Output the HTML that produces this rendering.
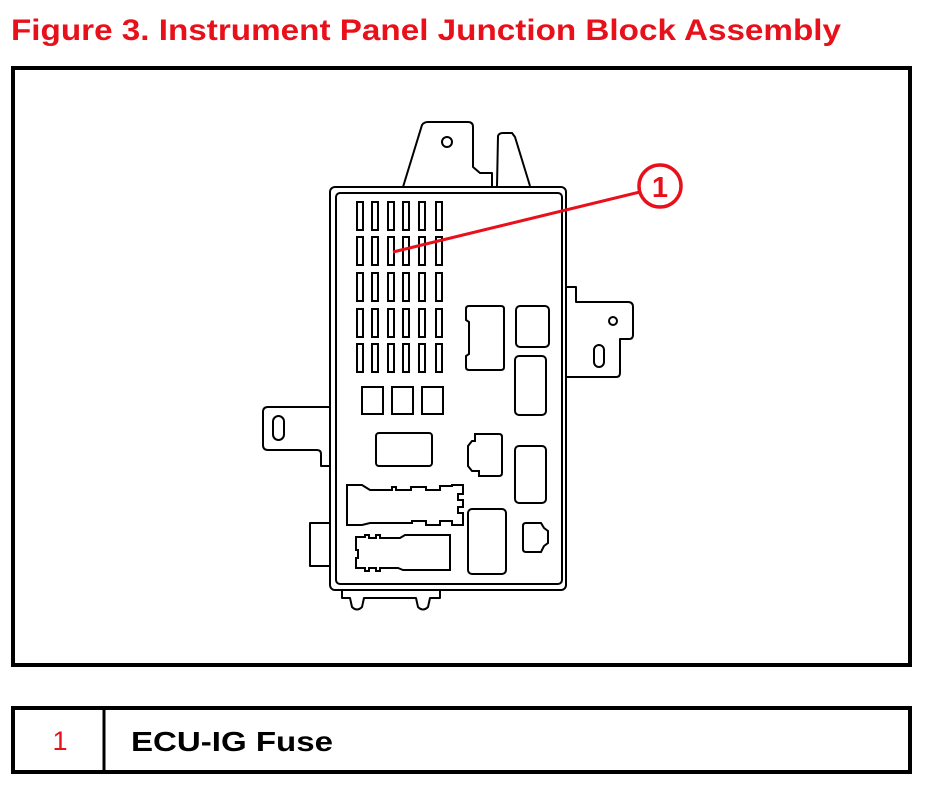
<!DOCTYPE html>
<html><head><meta charset="utf-8"><style>
html,body{margin:0;padding:0;background:#fff;}
svg{display:block;}
</style></head><body>
<svg width="936" height="801" viewBox="0 0 936 801" xmlns="http://www.w3.org/2000/svg" font-family="Liberation Sans, Arial, sans-serif">
<defs>
<g id="row">
<rect x="357" y="0" width="6" height="28"/><rect x="372" y="0" width="6" height="28"/><rect x="388" y="0" width="6" height="28"/><rect x="403" y="0" width="6" height="28"/><rect x="419" y="0" width="6" height="28"/><rect x="436" y="0" width="6" height="28"/>
</g>
</defs>
<text x="11" y="40" font-size="30" font-weight="bold" fill="#e8101a" textLength="830" lengthAdjust="spacingAndGlyphs">Figure 3. Instrument Panel Junction Block Assembly</text>
<rect x="13" y="68" width="897" height="597" fill="none" stroke="#000" stroke-width="4"/>
<g fill="none" stroke="#000" stroke-width="2" stroke-linejoin="round">
<path d="M403,187 L422,125 Q424,122 428,122 L468,122 Q473,122 473,127 L473,167 L480,173 L492,173 L492,187"/>
<circle cx="447" cy="142" r="5"/>
<path d="M497,186 L498,136 Q499,133 503,133 L512,133 L515,137 L530,186"/>
<path d="M567,287 L576,287 L576,302 L628,302 Q633,302 633,307 L633,335 Q633,339 629,339 L620,339 L620,373 Q620,377 616,377 L567,377"/>
<circle cx="613" cy="321" r="4"/>
<rect x="594" y="345" width="10" height="22" rx="5"/>
<path d="M330,407 L268,407 Q263,407 263,412 L263,445 Q263,450 268,450 L317,450 Q321,450 321,454 L321,466 L330,466"/>
<rect x="273" y="416" width="11" height="24" rx="5.5"/>
<path d="M330,523 L310,523 L310,566 L330,566"/>
<path d="M342,590 L342,598 L350,598 L352,607 Q357,612 362,607 L364,598 L416,598 L418,607 Q423,612 428,607 L430,598 L440,598 L440,590"/>
<rect x="330" y="187" width="236" height="403" rx="5"/>
<rect x="336" y="193" width="226" height="391" rx="4"/>
</g>
<g fill="none" stroke="#000" stroke-width="2">
<use href="#row" y="202"/><use href="#row" y="237"/><use href="#row" y="273"/><use href="#row" y="309"/><use href="#row" y="344"/>
<rect x="362" y="387" width="21" height="27"/>
<rect x="392" y="387" width="21" height="27"/>
<rect x="422" y="387" width="21" height="27"/>
<rect x="376" y="433" width="56" height="33" rx="3"/>
<path d="M469,306 L501,306 Q504,306 504,309 L504,367 Q504,370 501,370 L469,370 Q466,370 466,367 L466,356 L469,354 L469,322 L466,320 L466,309 Q466,306 469,306 Z"/>
<rect x="516" y="306" width="33" height="41" rx="4"/>
<rect x="515" y="356" width="31" height="59" rx="4"/>
<path d="M475,434 L499,434 Q502,434 502,437 L502,473 Q502,476 499,476 L479,476 L479,471 L472,471 L468,466 L468,446 L472,441 L475,441 Z"/>
<rect x="515" y="446" width="31" height="57" rx="4"/>
<rect x="468" y="509" width="38" height="65" rx="4"/>
<path d="M526,523 L541,523 L544,528 L548,531 L548,543 L544,546 L541,552 L526,552 Q523,552 523,549 L523,526 Q523,523 526,523 Z"/>
<path d="M347,485 L362,485 L370,490 L392,490 L392,487 L396,487 L396,490 L411,490 L411,487 L426,487 L426,490 L440,490 L440,486 L452,486 L452,485 L463,485 L463,494 L458,494 L458,500 L463,500 L463,507 L458,507 L458,513 L463,513 L463,525 L452,525 L452,521 L440,521 L440,525 L426,525 L426,521 L412,521 L412,523 L370,523 L362,525 L347,525 Z"/>
<path d="M356,537 L365,537 L365,535 L369,535 L369,538 L376,538 L376,535 L380,535 L380,538 L400,538 L405,535 L450,535 L450,570 L403,570 L398,568 L380,568 L380,571 L376,571 L376,568 L369,568 L369,571 L365,571 L365,568 L356,568 L356,558 L358,558 L358,550 L356,550 Z"/>
</g>
<line x1="393" y1="252" x2="640" y2="192" stroke="#e8101a" stroke-width="3"/>
<circle cx="660" cy="186" r="21" fill="#fff" stroke="#e8101a" stroke-width="3.5"/>
<text x="660" y="197" font-size="29" font-weight="bold" fill="#e8101a" text-anchor="middle">1</text>
<rect x="13" y="708" width="897" height="64" fill="none" stroke="#000" stroke-width="4"/>
<line x1="104" y1="708" x2="104" y2="772" stroke="#000" stroke-width="3"/>
<text x="60" y="750" font-size="27" fill="#e8101a" text-anchor="middle">1</text>
<text x="131" y="751" font-size="28" font-weight="bold" fill="#000" textLength="202" lengthAdjust="spacingAndGlyphs">ECU-IG Fuse</text>
</svg>
</body></html>
